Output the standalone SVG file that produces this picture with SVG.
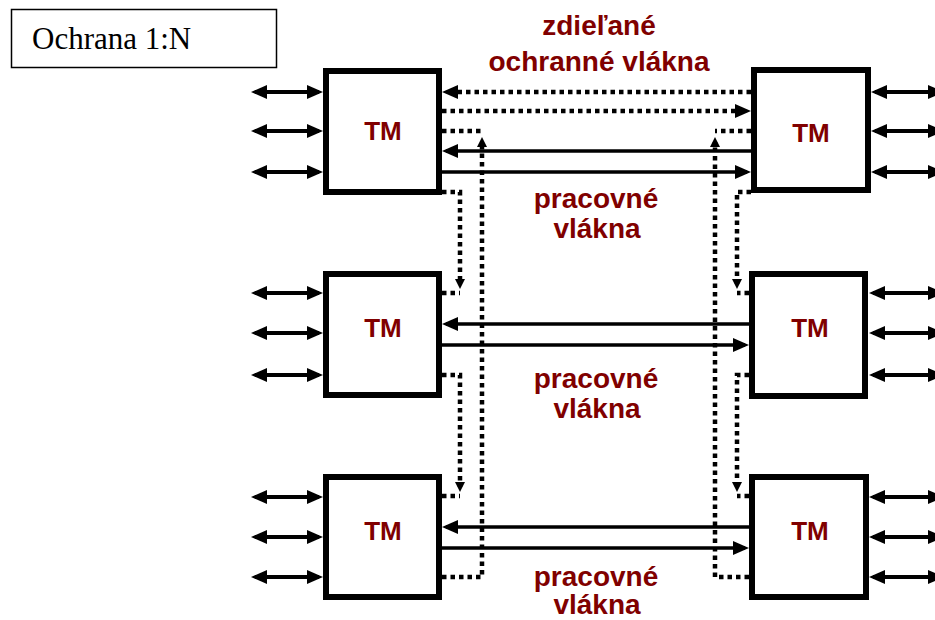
<svg xmlns="http://www.w3.org/2000/svg" width="935" height="620" viewBox="0 0 935 620">
<style>
.box{fill:#fff;stroke:#000;stroke-width:6}
.tm{font-family:"Liberation Sans",Arial,sans-serif;font-weight:bold;font-size:26px;fill:#800000;text-anchor:middle}
.lbl{font-family:"Liberation Sans",Arial,sans-serif;font-weight:bold;font-size:28px;fill:#800000;text-anchor:middle}
.dbl{stroke:#000;stroke-width:4;fill:none;marker-start:url(#ah);marker-end:url(#ah)}
.sol{stroke:#000;stroke-width:3.5;fill:none}
.dot{stroke:#000;stroke-width:4.5;fill:none;stroke-dasharray:4.5 4}
.end{marker-end:url(#ah)}
.ends{marker-end:url(#ahs)}
</style>
<defs>
<marker id="ah" markerUnits="userSpaceOnUse" markerWidth="18" markerHeight="16" refX="12" refY="7" orient="auto-start-reverse"><path d="M0,0 L16,7 L0,14 z" fill="#000"/></marker>
<marker id="ahs" markerUnits="userSpaceOnUse" markerWidth="12" markerHeight="12" refX="5" refY="5" orient="auto"><path d="M0,0 L10,5 L0,10 z" fill="#000"/></marker>
</defs>
<g id="title">
<rect x="11.5" y="9.5" width="265" height="58" fill="#fff" stroke="#000" stroke-width="1.5"/>
<text x="32" y="49" font-family="'Liberation Serif','Times New Roman',serif" font-size="31" fill="#000">Ochrana 1:N</text>
</g>
<g id="labels">
<text class="lbl" x="599" y="35">zdieľané</text>
<text class="lbl" x="599" y="71">ochranné vlákna</text>
<text class="lbl" x="596" y="208">pracovné</text>
<text class="lbl" x="597" y="238">vlákna</text>
<text class="lbl" x="596" y="388">pracovné</text>
<text class="lbl" x="597" y="418">vlákna</text>
<text class="lbl" x="596" y="586">pracovné</text>
<text class="lbl" x="597" y="614">vlákna</text>
</g>
<g id="connectors">
<line class="dbl" x1="255" y1="92" x2="319" y2="92"/>
<line class="dbl" x1="255" y1="131" x2="319" y2="131"/>
<line class="dbl" x1="255" y1="172" x2="319" y2="172"/>
<line class="dbl" x1="255" y1="293" x2="319" y2="293"/>
<line class="dbl" x1="255" y1="333" x2="319" y2="333"/>
<line class="dbl" x1="255" y1="375" x2="319" y2="375"/>
<line class="dbl" x1="255" y1="497" x2="319" y2="497"/>
<line class="dbl" x1="255" y1="537" x2="319" y2="537"/>
<line class="dbl" x1="255" y1="577" x2="319" y2="577"/>
<line class="dbl" x1="875" y1="92" x2="940" y2="92"/>
<line class="dbl" x1="875" y1="131" x2="940" y2="131"/>
<line class="dbl" x1="875" y1="172" x2="940" y2="172"/>
<line class="dbl" x1="873" y1="293" x2="940" y2="293"/>
<line class="dbl" x1="873" y1="333" x2="940" y2="333"/>
<line class="dbl" x1="873" y1="375" x2="940" y2="375"/>
<line class="dbl" x1="873" y1="497" x2="940" y2="497"/>
<line class="dbl" x1="873" y1="537" x2="940" y2="537"/>
<line class="dbl" x1="873" y1="577" x2="940" y2="577"/>
<line class="dot end" x1="751" y1="92" x2="446" y2="92"/>
<line class="dot end" x1="442" y1="111" x2="747" y2="111"/>
<line class="sol end" x1="751" y1="151" x2="446" y2="151"/>
<line class="sol end" x1="442" y1="172" x2="747" y2="172"/>
<line class="sol end" x1="749" y1="324" x2="446" y2="324"/>
<line class="sol end" x1="442" y1="345" x2="745" y2="345"/>
<line class="sol end" x1="749" y1="527" x2="446" y2="527"/>
<line class="sol end" x1="442" y1="548" x2="745" y2="548"/>
<polyline class="dot ends" points="442,577 482,577 482,142"/>
<polyline class="dot" points="442,131 482,131"/>
<polyline class="dot ends" points="442,192 460,192 460,284"/>
<polyline class="dot" points="442,293 460,293"/>
<polyline class="dot ends" points="442,375 460,375 460,487"/>
<polyline class="dot" points="442,496 460,496"/>
<polyline class="dot ends" points="749,577 715,577 715,142"/>
<polyline class="dot" points="751,131 715,131"/>
<polyline class="dot ends" points="751,192 737,192 737,284"/>
<polyline class="dot" points="749,293 737,293"/>
<polyline class="dot ends" points="749,375 737,375 737,487"/>
<polyline class="dot" points="749,496 737,496"/>
</g>
<g id="tm-tl"><rect class="box" x="326" y="71" width="113" height="121"/><text class="tm" x="383" y="140">TM</text></g>
<g id="tm-tr"><rect class="box" x="754" y="70" width="114" height="120"/><text class="tm" x="811" y="142">TM</text></g>
<g id="tm-ml"><rect class="box" x="326" y="274" width="113" height="121"/><text class="tm" x="383" y="337">TM</text></g>
<g id="tm-mr"><rect class="box" x="752" y="274" width="113" height="122"/><text class="tm" x="810" y="337">TM</text></g>
<g id="tm-bl"><rect class="box" x="326" y="477" width="113" height="120"/><text class="tm" x="383" y="540">TM</text></g>
<g id="tm-br"><rect class="box" x="752" y="477" width="114" height="120"/><text class="tm" x="810" y="540">TM</text></g>
</svg>
